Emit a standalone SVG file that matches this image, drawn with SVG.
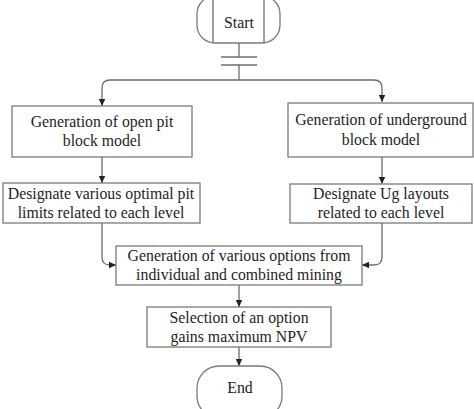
<svg xmlns="http://www.w3.org/2000/svg" width="474" height="409" viewBox="0 0 474 409">
<defs>
<style>
.box{fill:#fff;stroke:#7a7a7a;stroke-width:1.3}
.ln{fill:none;stroke:#6e6e6e;stroke-width:1.3}
.t{font-family:"Liberation Serif","Times New Roman",serif;font-size:15.8px;fill:#1e1e1e;text-anchor:middle}
</style>
<marker id="ah" markerWidth="8" markerHeight="8" refX="7" refY="4" orient="auto" markerUnits="userSpaceOnUse">
<path d="M0,0.8 L7,4 L0,7.2 Z" fill="#222"/>
</marker>
</defs>
<rect width="474" height="409" fill="#fff"/>
<g id="connectors">
<path class="ln" d="M239,43 V57"/>
<path class="ln" d="M221,57 H257 M221,65 H257"/>
<path class="ln" d="M239,65 V80"/>
<path class="ln" d="M110,80 H374 Q382,80 382,88 V102" marker-end="url(#ah)"/>
<path class="ln" d="M110,80 Q102,80 102,88 V106" marker-end="url(#ah)"/>
<path class="ln" d="M102,157 V183" marker-end="url(#ah)"/>
<path class="ln" d="M382,157 V184" marker-end="url(#ah)"/>
<path class="ln" d="M102,223 V257 Q102,265 110,265 H116" marker-end="url(#ah)"/>
<path class="ln" d="M382,223 V257 Q382,265 374,265 H362" marker-end="url(#ah)"/>
<path class="ln" d="M239,285 V307" marker-end="url(#ah)"/>
<path class="ln" d="M239,347 V366" marker-end="url(#ah)"/>
</g>
<g id="start">
<rect class="box" x="197" y="-4" width="83" height="47" rx="18"/>
<path class="ln" d="M213,-4 V43 M264,-4 V43"/>
<text class="t" x="239" y="28">Start</text>
</g>
<g id="open-pit-model">
<rect class="box" x="12" y="106" width="180" height="51"/>
<text class="t" x="102" y="127">Generation of open pit</text>
<text class="t" x="102" y="146">block model</text>
</g>
<g id="underground-model">
<rect class="box" x="288" y="103" width="185" height="54"/>
<text class="t" x="381" y="125">Generation of underground</text>
<text class="t" x="381" y="145">block model</text>
</g>
<g id="pit-limits">
<rect class="box" x="3" y="183" width="197" height="40"/>
<text class="t" x="101" y="199">Designate various optimal pit</text>
<text class="t" x="101" y="218">limits related to each level</text>
</g>
<g id="ug-layouts">
<rect class="box" x="290" y="184" width="182" height="39"/>
<text class="t" x="381" y="199">Designate Ug layouts</text>
<text class="t" x="381" y="218">related to each level</text>
</g>
<g id="options">
<rect class="box" x="116" y="246" width="246" height="39"/>
<text class="t" x="239" y="261">Generation of various options from</text>
<text class="t" x="239" y="280">individual and combined mining</text>
</g>
<g id="selection">
<rect class="box" x="147" y="307" width="184" height="40"/>
<text class="t" x="239" y="323">Selection of an option</text>
<text class="t" x="239" y="342">gains maximum NPV</text>
</g>
<g id="end">
<rect class="box" x="197" y="366" width="85" height="52" rx="22"/>
<text class="t" x="240" y="393">End</text>
</g>
</svg>
